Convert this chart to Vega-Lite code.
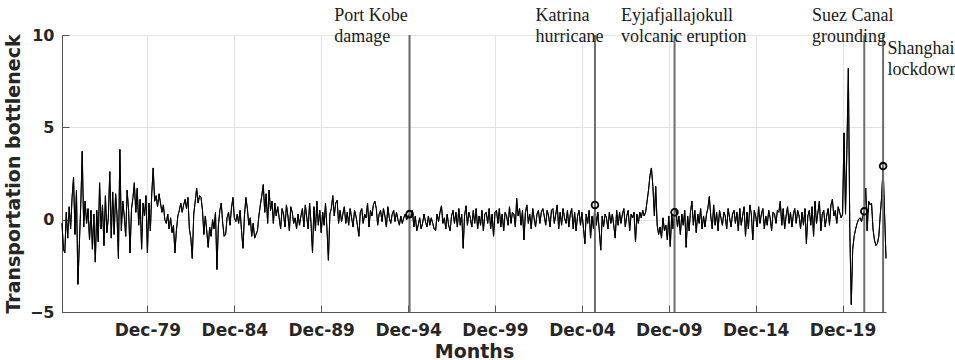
{
  "$schema": "https://vega.github.io/schema/vega-lite/v6.json",
  "width": 824,
  "height": 277,
  "autosize": {"type": "none"},
  "padding": {"left": 62, "top": 35, "right": 69, "bottom": 48},
  "background": "white",
  "config": {
    "view": {"stroke": null},
    "axis": {
      "labelFont": "DejaVu Sans",
      "titleFont": "DejaVu Sans",
      "labelFontWeight": "bold",
      "titleFontWeight": "bold",
      "labelColor": "#262626",
      "titleColor": "#262626",
      "domainColor": "#555555",
      "tickColor": "#555555",
      "gridColor": "#e3e3e3",
      "gridWidth": 1
    }
  },
  "datasets": {
    "series": [
{"m":"1975-01","v":-0.2},{"m":"1975-02","v":-1.6},{"m":"1975-03","v":-1.8},{"m":"1975-04","v":0.4},{"m":"1975-05","v":-1.0},{"m":"1975-06","v":0.7},{"m":"1975-07","v":-0.5},{"m":"1975-08","v":1.2},{"m":"1975-09","v":2.3},{"m":"1975-10","v":-0.8},{"m":"1975-11","v":1.6},{"m":"1975-12","v":-3.5},
{"m":"1976-01","v":-1.3},{"m":"1976-02","v":0.9},{"m":"1976-03","v":3.7},{"m":"1976-04","v":-0.4},{"m":"1976-05","v":1.0},{"m":"1976-06","v":-0.2},{"m":"1976-07","v":0.6},{"m":"1976-08","v":-1.1},{"m":"1976-09","v":0.5},{"m":"1976-10","v":-1.6},{"m":"1976-11","v":0.3},{"m":"1976-12","v":-2.3},
{"m":"1977-01","v":0.5},{"m":"1977-02","v":-1.2},{"m":"1977-03","v":2.0},{"m":"1977-04","v":-0.5},{"m":"1977-05","v":0.8},{"m":"1977-06","v":-1.4},{"m":"1977-07","v":1.3},{"m":"1977-08","v":-0.7},{"m":"1977-09","v":0.1},{"m":"1977-10","v":2.6},{"m":"1977-11","v":-1.0},{"m":"1977-12","v":1.5},
{"m":"1978-01","v":-0.8},{"m":"1978-02","v":1.4},{"m":"1978-03","v":0.3},{"m":"1978-04","v":-2.1},{"m":"1978-05","v":3.8},{"m":"1978-06","v":-0.6},{"m":"1978-07","v":1.0},{"m":"1978-08","v":0.2},{"m":"1978-09","v":-0.9},{"m":"1978-10","v":1.6},{"m":"1978-11","v":0.5},{"m":"1978-12","v":-1.8},
{"m":"1979-01","v":0.6},{"m":"1979-02","v":1.2},{"m":"1979-03","v":2.0},{"m":"1979-04","v":0.4},{"m":"1979-05","v":1.7},{"m":"1979-06","v":-0.3},{"m":"1979-07","v":1.1},{"m":"1979-08","v":-1.6},{"m":"1979-09","v":0.9},{"m":"1979-10","v":0.2},{"m":"1979-11","v":1.3},{"m":"1979-12","v":-1.8},
{"m":"1980-01","v":0.9},{"m":"1980-02","v":-0.6},{"m":"1980-03","v":1.4},{"m":"1980-04","v":2.8},{"m":"1980-05","v":1.0},{"m":"1980-06","v":1.3},{"m":"1980-07","v":0.7},{"m":"1980-08","v":1.4},{"m":"1980-09","v":0.9},{"m":"1980-10","v":0.4},{"m":"1980-11","v":0.8},{"m":"1980-12","v":0.0},
{"m":"1981-01","v":-0.2},{"m":"1981-02","v":0.3},{"m":"1981-03","v":-0.5},{"m":"1981-04","v":0.1},{"m":"1981-05","v":-0.7},{"m":"1981-06","v":-0.3},{"m":"1981-07","v":-1.8},{"m":"1981-08","v":-0.6},{"m":"1981-09","v":0.2},{"m":"1981-10","v":0.5},{"m":"1981-11","v":0.9},{"m":"1981-12","v":0.4},
{"m":"1982-01","v":0.8},{"m":"1982-02","v":1.1},{"m":"1982-03","v":0.6},{"m":"1982-04","v":1.2},{"m":"1982-05","v":-0.5},{"m":"1982-06","v":-1.0},{"m":"1982-07","v":-2.1},{"m":"1982-08","v":0.3},{"m":"1982-09","v":1.0},{"m":"1982-10","v":1.7},{"m":"1982-11","v":0.9},{"m":"1982-12","v":1.3},
{"m":"1983-01","v":1.2},{"m":"1983-02","v":0.5},{"m":"1983-03","v":-0.8},{"m":"1983-04","v":0.2},{"m":"1983-05","v":-0.6},{"m":"1983-06","v":-1.5},{"m":"1983-07","v":-0.4},{"m":"1983-08","v":-0.9},{"m":"1983-09","v":0.0},{"m":"1983-10","v":-0.5},{"m":"1983-11","v":0.4},{"m":"1983-12","v":-2.7},
{"m":"1984-01","v":-0.3},{"m":"1984-02","v":0.5},{"m":"1984-03","v":0.9},{"m":"1984-04","v":-0.2},{"m":"1984-05","v":-0.9},{"m":"1984-06","v":-0.8},{"m":"1984-07","v":0.1},{"m":"1984-08","v":0.4},{"m":"1984-09","v":-0.3},{"m":"1984-10","v":0.6},{"m":"1984-11","v":1.2},{"m":"1984-12","v":0.1},
{"m":"1985-01","v":-0.1},{"m":"1985-02","v":0.3},{"m":"1985-03","v":-0.2},{"m":"1985-04","v":0.5},{"m":"1985-05","v":-0.6},{"m":"1985-06","v":-1.55},{"m":"1985-07","v":0.2},{"m":"1985-08","v":1.2},{"m":"1985-09","v":0.6},{"m":"1985-10","v":-0.3},{"m":"1985-11","v":0.1},{"m":"1985-12","v":-0.9},
{"m":"1986-01","v":-0.2},{"m":"1986-02","v":-1.0},{"m":"1986-03","v":-0.8},{"m":"1986-04","v":-0.6},{"m":"1986-05","v":0.2},{"m":"1986-06","v":0.8},{"m":"1986-07","v":1.3},{"m":"1986-08","v":1.9},{"m":"1986-09","v":0.4},{"m":"1986-10","v":1.4},{"m":"1986-11","v":-0.2},{"m":"1986-12","v":1.6},
{"m":"1987-01","v":0.5},{"m":"1987-02","v":1.0},{"m":"1987-03","v":-0.2},{"m":"1987-04","v":0.9},{"m":"1987-05","v":0.2},{"m":"1987-06","v":0.7},{"m":"1987-07","v":0.1},{"m":"1987-08","v":-0.5},{"m":"1987-09","v":0.6},{"m":"1987-10","v":0.3},{"m":"1987-11","v":-0.4},{"m":"1987-12","v":0.8},
{"m":"1988-01","v":0.2},{"m":"1988-02","v":-0.6},{"m":"1988-03","v":0.7},{"m":"1988-04","v":0.4},{"m":"1988-05","v":-0.2},{"m":"1988-06","v":0.1},{"m":"1988-07","v":-0.5},{"m":"1988-08","v":0.3},{"m":"1988-09","v":-0.3},{"m":"1988-10","v":0.2},{"m":"1988-11","v":0.6},{"m":"1988-12","v":-0.4},
{"m":"1989-01","v":0.8},{"m":"1989-02","v":0.1},{"m":"1989-03","v":-0.5},{"m":"1989-04","v":0.9},{"m":"1989-05","v":-0.2},{"m":"1989-06","v":-1.8},{"m":"1989-07","v":0.7},{"m":"1989-08","v":-0.6},{"m":"1989-09","v":1.0},{"m":"1989-10","v":-0.3},{"m":"1989-11","v":0.5},{"m":"1989-12","v":-0.7},
{"m":"1990-01","v":0.4},{"m":"1990-02","v":-0.3},{"m":"1990-03","v":0.9},{"m":"1990-04","v":-0.5},{"m":"1990-05","v":-2.2},{"m":"1990-06","v":0.3},{"m":"1990-07","v":0.6},{"m":"1990-08","v":1.3},{"m":"1990-09","v":0.2},{"m":"1990-10","v":0.9},{"m":"1990-11","v":1.05},{"m":"1990-12","v":-0.2},
{"m":"1991-01","v":0.5},{"m":"1991-02","v":-0.1},{"m":"1991-03","v":0.3},{"m":"1991-04","v":0.7},{"m":"1991-05","v":-0.2},{"m":"1991-06","v":0.4},{"m":"1991-07","v":-0.3},{"m":"1991-08","v":0.6},{"m":"1991-09","v":0.1},{"m":"1991-10","v":-0.4},{"m":"1991-11","v":0.5},{"m":"1991-12","v":0.2},
{"m":"1992-01","v":-0.3},{"m":"1992-02","v":-0.9},{"m":"1992-03","v":0.4},{"m":"1992-04","v":0.6},{"m":"1992-05","v":-0.2},{"m":"1992-06","v":0.3},{"m":"1992-07","v":0.1},{"m":"1992-08","v":0.9},{"m":"1992-09","v":-0.4},{"m":"1992-10","v":0.5},{"m":"1992-11","v":0.2},{"m":"1992-12","v":0.8},
{"m":"1993-01","v":1.0},{"m":"1993-02","v":0.6},{"m":"1993-03","v":-0.3},{"m":"1993-04","v":0.3},{"m":"1993-05","v":0.5},{"m":"1993-06","v":-0.1},{"m":"1993-07","v":0.6},{"m":"1993-08","v":0.2},{"m":"1993-09","v":-0.4},{"m":"1993-10","v":0.7},{"m":"1993-11","v":0.1},{"m":"1993-12","v":-0.2},
{"m":"1994-01","v":0.3},{"m":"1994-02","v":0.5},{"m":"1994-03","v":-0.1},{"m":"1994-04","v":0.4},{"m":"1994-05","v":0.0},{"m":"1994-06","v":-0.3},{"m":"1994-07","v":0.2},{"m":"1994-08","v":-0.2},{"m":"1994-09","v":0.1},{"m":"1994-10","v":0.3},{"m":"1994-11","v":0.0},{"m":"1994-12","v":0.2},
{"m":"1995-01","v":0.3},{"m":"1995-02","v":0.1},{"m":"1995-03","v":0.5},{"m":"1995-04","v":-0.4},{"m":"1995-05","v":0.2},{"m":"1995-06","v":-0.6},{"m":"1995-07","v":-0.3},{"m":"1995-08","v":0.1},{"m":"1995-09","v":-0.5},{"m":"1995-10","v":-0.2},{"m":"1995-11","v":0.3},{"m":"1995-12","v":-0.1},
{"m":"1996-01","v":-0.4},{"m":"1996-02","v":0.2},{"m":"1996-03","v":-0.3},{"m":"1996-04","v":0.1},{"m":"1996-05","v":-0.2},{"m":"1996-06","v":-0.5},{"m":"1996-07","v":-0.6},{"m":"1996-08","v":0.3},{"m":"1996-09","v":-0.1},{"m":"1996-10","v":0.4},{"m":"1996-11","v":0.75},{"m":"1996-12","v":-0.2},
{"m":"1997-01","v":0.1},{"m":"1997-02","v":-0.5},{"m":"1997-03","v":0.3},{"m":"1997-04","v":-0.3},{"m":"1997-05","v":-0.6},{"m":"1997-06","v":0.2},{"m":"1997-07","v":0.5},{"m":"1997-08","v":-0.2},{"m":"1997-09","v":0.4},{"m":"1997-10","v":-0.4},{"m":"1997-11","v":0.6},{"m":"1997-12","v":-0.3},
{"m":"1998-01","v":0.3},{"m":"1998-02","v":-1.55},{"m":"1998-03","v":0.2},{"m":"1998-04","v":0.75},{"m":"1998-05","v":-0.3},{"m":"1998-06","v":0.4},{"m":"1998-07","v":0.1},{"m":"1998-08","v":-0.4},{"m":"1998-09","v":0.5},{"m":"1998-10","v":-0.2},{"m":"1998-11","v":0.6},{"m":"1998-12","v":-0.5},
{"m":"1999-01","v":0.2},{"m":"1999-02","v":-0.3},{"m":"1999-03","v":0.5},{"m":"1999-04","v":-0.6},{"m":"1999-05","v":0.3},{"m":"1999-06","v":0.4},{"m":"1999-07","v":-0.2},{"m":"1999-08","v":0.6},{"m":"1999-09","v":-0.5},{"m":"1999-10","v":0.3},{"m":"1999-11","v":-0.9},{"m":"1999-12","v":0.4},
{"m":"2000-01","v":0.5},{"m":"2000-02","v":-0.2},{"m":"2000-03","v":0.6},{"m":"2000-04","v":-0.4},{"m":"2000-05","v":0.3},{"m":"2000-06","v":-0.6},{"m":"2000-07","v":0.4},{"m":"2000-08","v":0.2},{"m":"2000-09","v":-0.3},{"m":"2000-10","v":0.7},{"m":"2000-11","v":-0.2},{"m":"2000-12","v":0.4},
{"m":"2001-01","v":0.3},{"m":"2001-02","v":-0.4},{"m":"2001-03","v":1.15},{"m":"2001-04","v":0.2},{"m":"2001-05","v":0.6},{"m":"2001-06","v":-0.3},{"m":"2001-07","v":0.5},{"m":"2001-08","v":-1.1},{"m":"2001-09","v":0.4},{"m":"2001-10","v":0.8},{"m":"2001-11","v":-0.2},{"m":"2001-12","v":0.3},
{"m":"2002-01","v":-0.5},{"m":"2002-02","v":0.6},{"m":"2002-03","v":0.1},{"m":"2002-04","v":-0.4},{"m":"2002-05","v":0.3},{"m":"2002-06","v":0.5},{"m":"2002-07","v":-0.2},{"m":"2002-08","v":0.4},{"m":"2002-09","v":0.6},{"m":"2002-10","v":0.2},{"m":"2002-11","v":-0.3},{"m":"2002-12","v":0.5},
{"m":"2003-01","v":0.2},{"m":"2003-02","v":-0.4},{"m":"2003-03","v":0.5},{"m":"2003-04","v":0.6},{"m":"2003-05","v":-0.2},{"m":"2003-06","v":0.3},{"m":"2003-07","v":0.8},{"m":"2003-08","v":-0.5},{"m":"2003-09","v":0.4},{"m":"2003-10","v":-0.3},{"m":"2003-11","v":0.6},{"m":"2003-12","v":0.1},
{"m":"2004-01","v":-0.2},{"m":"2004-02","v":0.5},{"m":"2004-03","v":-0.4},{"m":"2004-04","v":0.3},{"m":"2004-05","v":0.6},{"m":"2004-06","v":-0.5},{"m":"2004-07","v":0.4},{"m":"2004-08","v":-0.6},{"m":"2004-09","v":0.2},{"m":"2004-10","v":0.5},{"m":"2004-11","v":-0.3},{"m":"2004-12","v":0.4},
{"m":"2005-01","v":-0.4},{"m":"2005-02","v":-1.3},{"m":"2005-03","v":0.3},{"m":"2005-04","v":-0.2},{"m":"2005-05","v":0.5},{"m":"2005-06","v":-1.0},{"m":"2005-07","v":0.2},{"m":"2005-08","v":-0.5},{"m":"2005-09","v":0.8},{"m":"2005-10","v":-0.3},{"m":"2005-11","v":0.4},{"m":"2005-12","v":-0.6},
{"m":"2006-01","v":-1.65},{"m":"2006-02","v":0.2},{"m":"2006-03","v":-0.4},{"m":"2006-04","v":0.3},{"m":"2006-05","v":0.1},{"m":"2006-06","v":-0.5},{"m":"2006-07","v":0.4},{"m":"2006-08","v":-0.2},{"m":"2006-09","v":0.3},{"m":"2006-10","v":-0.3},{"m":"2006-11","v":-1.0},{"m":"2006-12","v":0.5},
{"m":"2007-01","v":-0.3},{"m":"2007-02","v":0.4},{"m":"2007-03","v":-0.2},{"m":"2007-04","v":0.3},{"m":"2007-05","v":0.6},{"m":"2007-06","v":-0.4},{"m":"2007-07","v":0.2},{"m":"2007-08","v":0.5},{"m":"2007-09","v":-0.6},{"m":"2007-10","v":0.3},{"m":"2007-11","v":0.1},{"m":"2007-12","v":0.4},
{"m":"2008-01","v":-1.2},{"m":"2008-02","v":0.3},{"m":"2008-03","v":-0.2},{"m":"2008-04","v":0.4},{"m":"2008-05","v":0.1},{"m":"2008-06","v":0.5},{"m":"2008-07","v":0.2},{"m":"2008-08","v":0.4},{"m":"2008-09","v":1.0},{"m":"2008-10","v":1.6},{"m":"2008-11","v":2.4},{"m":"2008-12","v":2.8},
{"m":"2009-01","v":1.8},{"m":"2009-02","v":0.2},{"m":"2009-03","v":1.8},{"m":"2009-04","v":-0.3},{"m":"2009-05","v":-0.8},{"m":"2009-06","v":-0.4},{"m":"2009-07","v":-1.0},{"m":"2009-08","v":0.1},{"m":"2009-09","v":-0.6},{"m":"2009-10","v":-0.3},{"m":"2009-11","v":-1.1},{"m":"2009-12","v":0.2},
{"m":"2010-01","v":-1.45},{"m":"2010-02","v":0.3},{"m":"2010-03","v":-0.5},{"m":"2010-04","v":0.4},{"m":"2010-05","v":0.6},{"m":"2010-06","v":-0.4},{"m":"2010-07","v":0.2},{"m":"2010-08","v":-0.8},{"m":"2010-09","v":0.3},{"m":"2010-10","v":-0.3},{"m":"2010-11","v":0.5},{"m":"2010-12","v":-1.5},
{"m":"2011-01","v":0.2},{"m":"2011-02","v":-0.6},{"m":"2011-03","v":0.4},{"m":"2011-04","v":1.0},{"m":"2011-05","v":-0.3},{"m":"2011-06","v":0.5},{"m":"2011-07","v":-0.7},{"m":"2011-08","v":0.3},{"m":"2011-09","v":-0.2},{"m":"2011-10","v":0.6},{"m":"2011-11","v":-0.5},{"m":"2011-12","v":0.2},
{"m":"2012-01","v":-0.4},{"m":"2012-02","v":0.3},{"m":"2012-03","v":0.6},{"m":"2012-04","v":1.25},{"m":"2012-05","v":0.2},{"m":"2012-06","v":-0.5},{"m":"2012-07","v":0.8},{"m":"2012-08","v":-0.3},{"m":"2012-09","v":0.4},{"m":"2012-10","v":-0.6},{"m":"2012-11","v":0.5},{"m":"2012-12","v":0.1},
{"m":"2013-01","v":-0.3},{"m":"2013-02","v":0.4},{"m":"2013-03","v":0.2},{"m":"2013-04","v":-0.5},{"m":"2013-05","v":0.6},{"m":"2013-06","v":0.1},{"m":"2013-07","v":-0.4},{"m":"2013-08","v":0.3},{"m":"2013-09","v":0.5},{"m":"2013-10","v":-0.2},{"m":"2013-11","v":0.4},{"m":"2013-12","v":-0.6},
{"m":"2014-01","v":0.6},{"m":"2014-02","v":-0.3},{"m":"2014-03","v":0.2},{"m":"2014-04","v":0.7},{"m":"2014-05","v":-0.9},{"m":"2014-06","v":0.4},{"m":"2014-07","v":-0.5},{"m":"2014-08","v":0.8},{"m":"2014-09","v":0.3},{"m":"2014-10","v":-1.1},{"m":"2014-11","v":0.5},{"m":"2014-12","v":0.2},
{"m":"2015-01","v":-0.4},{"m":"2015-02","v":0.7},{"m":"2015-03","v":-0.2},{"m":"2015-04","v":0.3},{"m":"2015-05","v":0.6},{"m":"2015-06","v":-0.5},{"m":"2015-07","v":0.2},{"m":"2015-08","v":-0.3},{"m":"2015-09","v":0.5},{"m":"2015-10","v":0.1},{"m":"2015-11","v":-0.6},{"m":"2015-12","v":0.4},
{"m":"2016-01","v":0.3},{"m":"2016-02","v":-0.2},{"m":"2016-03","v":0.5},{"m":"2016-04","v":0.4},{"m":"2016-05","v":1.0},{"m":"2016-06","v":-0.3},{"m":"2016-07","v":0.6},{"m":"2016-08","v":-0.5},{"m":"2016-09","v":0.2},{"m":"2016-10","v":0.7},{"m":"2016-11","v":-0.2},{"m":"2016-12","v":0.4},
{"m":"2017-01","v":-0.4},{"m":"2017-02","v":0.3},{"m":"2017-03","v":0.6},{"m":"2017-04","v":-0.2},{"m":"2017-05","v":0.5},{"m":"2017-06","v":0.2},{"m":"2017-07","v":-0.5},{"m":"2017-08","v":0.4},{"m":"2017-09","v":-0.3},{"m":"2017-10","v":0.6},{"m":"2017-11","v":-1.3},{"m":"2017-12","v":0.2},
{"m":"2018-01","v":0.5},{"m":"2018-02","v":-0.3},{"m":"2018-03","v":0.7},{"m":"2018-04","v":-0.9},{"m":"2018-05","v":1.0},{"m":"2018-06","v":-0.2},{"m":"2018-07","v":0.4},{"m":"2018-08","v":1.0},{"m":"2018-09","v":-0.6},{"m":"2018-10","v":0.3},{"m":"2018-11","v":0.5},{"m":"2018-12","v":-0.4},
{"m":"2019-01","v":0.2},{"m":"2019-02","v":0.6},{"m":"2019-03","v":-0.3},{"m":"2019-04","v":0.8},{"m":"2019-05","v":1.1},{"m":"2019-06","v":0.2},{"m":"2019-07","v":0.5},{"m":"2019-08","v":-0.2},{"m":"2019-09","v":0.7},{"m":"2019-10","v":0.4},{"m":"2019-11","v":0.1},{"m":"2019-12","v":0.3},
{"m":"2020-01","v":4.7},{"m":"2020-02","v":0.3},{"m":"2020-03","v":3.8},{"m":"2020-04","v":8.2},{"m":"2020-05","v":-0.5},{"m":"2020-06","v":-4.6},{"m":"2020-07","v":-1.6},{"m":"2020-08","v":-0.9},{"m":"2020-09","v":-0.5},{"m":"2020-10","v":-0.2},{"m":"2020-11","v":0.0},{"m":"2020-12","v":0.1},
{"m":"2021-01","v":-0.1},{"m":"2021-02","v":0.2},{"m":"2021-03","v":0.45},{"m":"2021-04","v":1.7},{"m":"2021-05","v":-0.6},{"m":"2021-06","v":1.0},{"m":"2021-07","v":0.8},{"m":"2021-08","v":0.9},{"m":"2021-09","v":-0.5},{"m":"2021-10","v":-1.1},{"m":"2021-11","v":-1.4},{"m":"2021-12","v":-1.3},
{"m":"2022-01","v":-0.9},{"m":"2022-02","v":0.3},{"m":"2022-03","v":1.2},{"m":"2022-04","v":2.9},{"m":"2022-05","v":0.4},{"m":"2022-06","v":-2.1}
    ],
    "events": [
      {"m": "1995-01", "v": 0.3, "label": ["Port Kobe", "damage"], "lm": "1990-09", "ly": 10.77},
      {"m": "2005-09", "v": 0.8, "label": ["Katrina", "hurricane"], "lm": "2002-04", "ly": 10.77},
      {"m": "2010-04", "v": 0.4, "label": ["Eyjafjallajokull", "volcanic eruption"], "lm": "2007-03", "ly": 10.77},
      {"m": "2021-03", "v": 0.45, "label": ["Suez Canal", "grounding"], "lm": "2018-03", "ly": 10.77},
      {"m": "2022-04", "v": 2.9, "label": ["Shanghai", "lockdown"], "lm": "2022-07", "ly": 8.97}
    ]
  },
  "layer": [
    {
      "data": {"name": "series"},
      "mark": {"type": "line", "color": "#000000", "strokeWidth": 1},
      "encoding": {
        "x": {
          "field": "m", "type": "temporal",
          "scale": {"type": "utc", "domain": [{"year": 1975, "month": 1, "date": 1, "utc": true}, {"year": 2022, "month": 6, "date": 1, "utc": true}]},
          "axis": {
            "title": "Months",
            "format": "%b-%y",
            "values": [
              {"year": 1979, "month": 12, "date": 1, "utc": true},
              {"year": 1984, "month": 12, "date": 1, "utc": true},
              {"year": 1989, "month": 12, "date": 1, "utc": true},
              {"year": 1994, "month": 12, "date": 1, "utc": true},
              {"year": 1999, "month": 12, "date": 1, "utc": true},
              {"year": 2004, "month": 12, "date": 1, "utc": true},
              {"year": 2009, "month": 12, "date": 1, "utc": true},
              {"year": 2014, "month": 12, "date": 1, "utc": true},
              {"year": 2019, "month": 12, "date": 1, "utc": true}
            ],
            "labelFontSize": 17,
            "titleFontSize": 19,
            "tickSize": -7,
            "labelPadding": 17,
            "titlePadding": 4,
            "labelOverlap": false,
            "labelFlush": false,
            "grid": true
          }
        },
        "y": {
          "field": "v", "type": "quantitative",
          "scale": {"domain": [-5, 10], "nice": false, "zero": false},
          "axis": {
            "title": "Transportation bottleneck",
            "values": [-5, 0, 5, 10],
            "labelFontSize": 16,
            "titleFontSize": 19,
            "tickSize": -7,
            "labelPadding": 15,
            "titlePadding": 6,
            "grid": true
          }
        }
      }
    },
    {
      "mark": {"type": "rule", "color": "#4d4d4d", "strokeWidth": 1, "strokeDash": [6, 4]},
      "encoding": {"y": {"datum": 0, "type": "quantitative"}}
    },
    {
      "data": {"name": "series"},
      "mark": {"type": "line", "color": "#000000", "strokeWidth": 1},
      "encoding": {
        "x": {"field": "m", "type": "temporal"},
        "y": {"field": "v", "type": "quantitative"}
      }
    },
    {
      "data": {"name": "events"},
      "mark": {"type": "rule", "color": "#6e6e6e", "strokeWidth": 2},
      "encoding": {"x": {"field": "m", "type": "temporal"}}
    },
    {
      "data": {"name": "events"},
      "mark": {"type": "point", "shape": "circle", "filled": false, "color": "#000000", "strokeWidth": 1.8, "size": 45, "opacity": 1},
      "encoding": {
        "x": {"field": "m", "type": "temporal"},
        "y": {"field": "v", "type": "quantitative"}
      }
    },
    {
      "data": {"name": "events"},
      "mark": {"type": "text", "font": "Liberation Serif", "fontSize": 18, "align": "left", "baseline": "alphabetic", "lineHeight": 21, "color": "#1a1a1a"},
      "encoding": {
        "x": {"field": "lm", "type": "temporal"},
        "y": {"field": "ly", "type": "quantitative"},
        "text": {"field": "label"}
      }
    }
  ]
}
